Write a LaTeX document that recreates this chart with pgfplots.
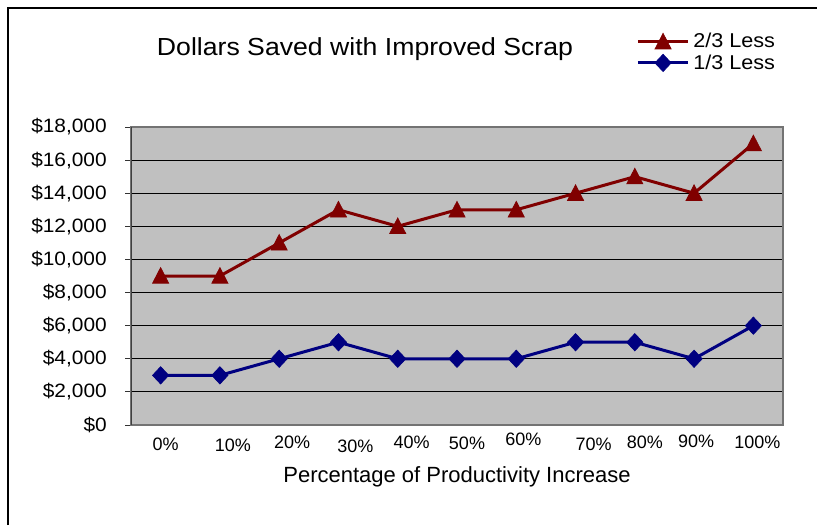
\documentclass[border=0pt]{standalone}
\usepackage{pgfplots}
\pgfplotsset{compat=1.18}
\usepackage{fontspec}
\setmainfont{Liberation Sans}[FakeStretch=1.08]
\newfontfamily\plainfont{Liberation Sans}
\definecolor{myred}{RGB}{128,0,0}
\definecolor{myblue}{RGB}{0,0,128}
\definecolor{plotbg}{RGB}{192,192,192}
\newdimen\px \px=0.75pt
\newcommand\xtl[3]{\raisebox{-#2\px}{\hspace*{#1\px}#3\hspace*{-#1\px}}}
\begin{document}
\begin{tikzpicture}
\begin{scope}[x=0.75pt,y=-0.75pt]
\path[use as bounding box] (0,0) rectangle (817,525);
\draw[black, line width=1.6pt] (8,525) -- (8,8) -- (817,8);
\end{scope}
\begin{axis}[
  at={(98.25pt,-318.75pt)}, anchor=south west,
  scale only axis, width=489pt, height=223.5pt,
  xmin=-0.5, xmax=10.5, ymin=0, ymax=18000,
  axis background/.style={fill=plotbg},
  axis line style={draw=black!55, line width=0.9pt},
  ymajorgrids, major grid style={black, line width=0.6pt},
  scaled y ticks=false,
  ytick={0,2000,...,18000},
  yticklabels={{\$0},{\$2,000},{\$4,000},{\$6,000},{\$8,000},{\$10,000},{\$12,000},{\$14,000},{\$16,000},{\$18,000}},
  xtick={0,...,10},
  xticklabels={\xtl{5}{2}{0\%},\xtl{13}{3}{10\%},\xtl{13}{0}{20\%},\xtl{17}{4}{30\%},\xtl{14}{0}{40\%},\xtl{10}{1}{50\%},\xtl{7}{-3}{60\%},\xtl{18}{2}{70\%},\xtl{10}{0}{80\%},\xtl{2}{-1}{90\%},\xtl{4}{0}{100\%}},
  tick align=outside, major tick length=4.5pt, tickpos=left,
  x tick style={draw=none},
  y tick style={black!80, line width=0.75pt},
  yticklabel style={font=\fontsize{14.5}{16}\selectfont, inner sep=0pt, anchor=east, xshift=-13.5pt},
  xticklabel style={font=\plainfont\fontsize{13.5}{15}\selectfont, inner sep=0pt, anchor=base, yshift=-13.15pt},
  every axis title shift=0pt,
  title={Dollars Saved with Improved Scrap},
  title style={at={(axis description cs:0.3589,1.2416)}, anchor=base, font=\fontsize{18.5}{20}\selectfont, inner sep=0pt},
  xlabel={Percentage of Productivity Increase},
  xlabel style={at={(axis description cs:0.5,-0.1946)}, anchor=base, font=\plainfont\fontsize{16.5}{18}\selectfont, inner sep=0pt},
  legend image code/.code={\draw[#1, mark repeat=2, mark phase=2] plot coordinates {(0pt,0pt) (19pt,0pt) (38pt,0pt)};},
  legend style={at={(axis description cs:0.7745,1.3154)}, anchor=north west, draw=none, fill=none, inner sep=0pt, font=\fontsize{15}{15}\selectfont, row sep=3.2pt, column sep=2.5pt, nodes={inner sep=0pt}},
  legend cell align=left,
]
\addplot[myred, line width=2.25pt, mark=triangle*, mark size=7pt, mark options={solid, fill=myred, draw=myred, line width=0.5pt, yshift=-1.5pt, yscale=1.12}]
  coordinates {(0,9000) (1,9000) (2,11000) (3,13000) (4,12000) (5,13000) (6,13000) (7,14000) (8,15000) (9,14000) (10,17000)};
\addlegendentry{2/3 Less}
\addplot[myblue, line width=2.25pt, mark=diamond*, mark size=6.5pt, mark options={solid, fill=myblue, draw=myblue, line width=0.5pt, xscale=1.25}]
  coordinates {(0,3000) (1,3000) (2,4000) (3,5000) (4,4000) (5,4000) (6,4000) (7,5000) (8,5000) (9,4000) (10,6000)};
\addlegendentry{1/3 Less}
\draw[black!75, line width=1.4pt] (rel axis cs:0,1) -- (rel axis cs:0,0);
\end{axis}
\end{tikzpicture}
\end{document}
